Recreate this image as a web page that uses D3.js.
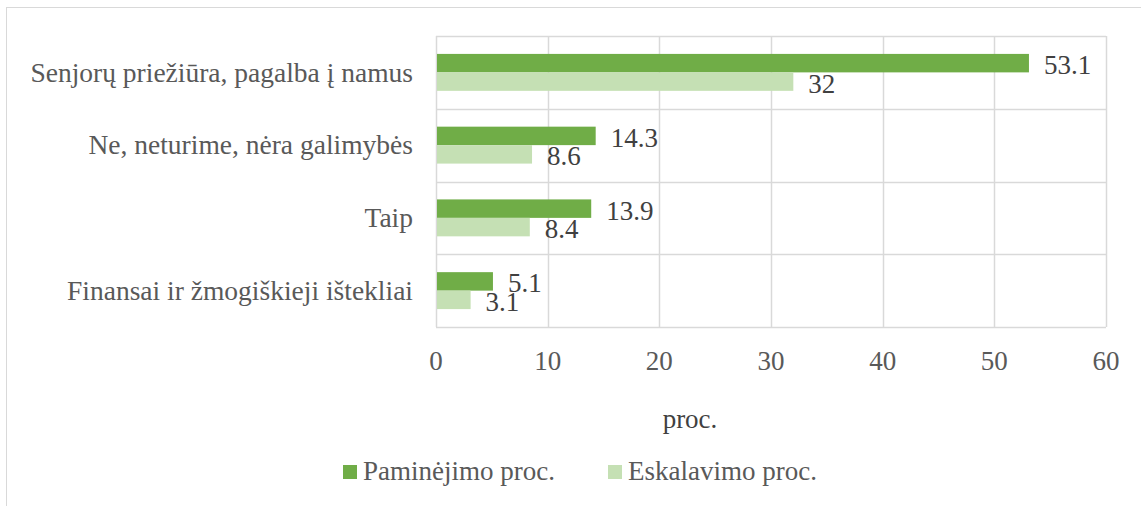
<!DOCTYPE html>
<html>
<head>
<meta charset="utf-8">
<script src="https://cdn.jsdelivr.net/npm/d3@7"></script>
<style>
  body { margin: 0; background: #fff; }
</style>
</head>
<body>
<svg id="chart"></svg>
<script>
const width = 1141, height = 506;
const font = "'Liberation Serif', 'Times New Roman', serif";

const categories = [
    "Senjorų priežiūra, pagalba į namus",
    "Ne, neturime, nėra galimybės",
    "Taip",
    "Finansai ir žmogiškieji ištekliai"
];
const seriesNames = ["Paminėjimo proc.", "Eskalavimo proc."];
const mentioned = [53.1, 14.3, 13.9, 5.1];
const escalated = [32, 8.6, 8.4, 3.1];
const xTicks = [0, 10, 20, 30, 40, 50, 60];
const colors = ["#70AD47", "#C5E0B4"];

const margin = { left: 436, right: 35, top: 36, bottom: 179 };

const svg = d3.select("#chart")
    .attr("width", width)
    .attr("height", height);

// outer chart frame
svg.append("rect")
    .attr("x", 6.5).attr("y", 7.5)
    .attr("width", width + 20).attr("height", height + 20)
    .attr("fill", "none")
    .attr("stroke", "#D9D9D9")
    .attr("stroke-width", 1);

const x = d3.scaleLinear()
    .domain([0, 60])
    .range([margin.left, width - margin.right]);

const y = d3.scaleBand()
    .domain(categories)
    .range([margin.top, height - margin.bottom])
    .padding(0);

const y1 = d3.scaleBand()
    .domain(seriesNames)
    .range([0, y.bandwidth()])
    .paddingInner(0)
    .paddingOuter(0.97);

// gridlines
svg.append("g").selectAll("line")
    .data(xTicks)
    .enter().append("line")
    .attr("x1", d => Math.round(x(d)) + 0.5)
    .attr("x2", d => Math.round(x(d)) + 0.5)
    .attr("y1", margin.top)
    .attr("y2", height - margin.bottom)
    .attr("stroke", "#D9D9D9")
    .attr("stroke-width", 1.5);

const bounds = categories.map(c => y(c)).concat([height - margin.bottom]);
svg.append("g").selectAll("line")
    .data(bounds)
    .enter().append("line")
    .attr("x1", x(0))
    .attr("x2", x(60))
    .attr("y1", d => Math.round(d) + 0.5)
    .attr("y2", d => Math.round(d) + 0.5)
    .attr("stroke", "#D9D9D9")
    .attr("stroke-width", 1.5);

// bars
const rows = categories.map((c, i) => ({ cat: c, values: [mentioned[i], escalated[i]] }));

const group = svg.append("g").selectAll("g")
    .data(rows)
    .enter().append("g")
    .attr("transform", d => `translate(0,${y(d.cat)})`);

group.selectAll("rect")
    .data(d => d.values.map((v, j) => ({ v, s: seriesNames[j], j })))
    .enter().append("rect")
    .attr("x", x(0) + 1)
    .attr("y", d => y1(d.s))
    .attr("width", d => x(d.v) - x(0) - 1)
    .attr("height", y1.bandwidth())
    .attr("fill", d => colors[d.j]);

group.selectAll("text.val")
    .data(d => d.values.map((v, j) => ({ v, s: seriesNames[j], j })))
    .enter().append("text")
    .attr("class", "val")
    .attr("x", d => x(d.v) + 15)
    .attr("y", d => y1(d.s) + y1.bandwidth() / 2)
    .attr("dy", "0.41em")
    .attr("fill", "#404040")
    .style("font-family", font)
    .style("font-size", "27px")
    .text(d => d.v);

// category labels
svg.append("g").selectAll("text")
    .data(categories)
    .enter().append("text")
    .attr("x", margin.left - 23)
    .attr("y", d => y(d) + y.bandwidth() / 2)
    .attr("dy", "0.34em")
    .attr("text-anchor", "end")
    .attr("fill", "#595959")
    .style("font-family", font)
    .style("font-size", "27.5px")
    .text(d => d);

// x tick labels
svg.append("g").selectAll("text")
    .data(xTicks)
    .enter().append("text")
    .attr("x", d => x(d))
    .attr("y", 370)
    .attr("text-anchor", "middle")
    .attr("fill", "#595959")
    .style("font-family", font)
    .style("font-size", "27px")
    .text(d => d);

// axis title
svg.append("text")
    .attr("x", 690)
    .attr("y", 428)
    .attr("text-anchor", "middle")
    .attr("fill", "#404040")
    .style("font-family", font)
    .style("font-size", "27px")
    .text("proc.");

// legend
const legendX = [343, 608];
const legend = svg.append("g").selectAll("g")
    .data(seriesNames)
    .enter().append("g")
    .attr("transform", (d, i) => `translate(${legendX[i]},480)`);

legend.append("rect")
    .attr("x", 0).attr("y", -15)
    .attr("width", 14).attr("height", 14)
    .attr("fill", (d, i) => colors[i]);

legend.append("text")
    .attr("x", 20)
    .attr("y", 0)
    .attr("fill", "#595959")
    .style("font-family", font)
    .style("font-size", "27px")
    .text(d => d);
</script>
</body>
</html>
